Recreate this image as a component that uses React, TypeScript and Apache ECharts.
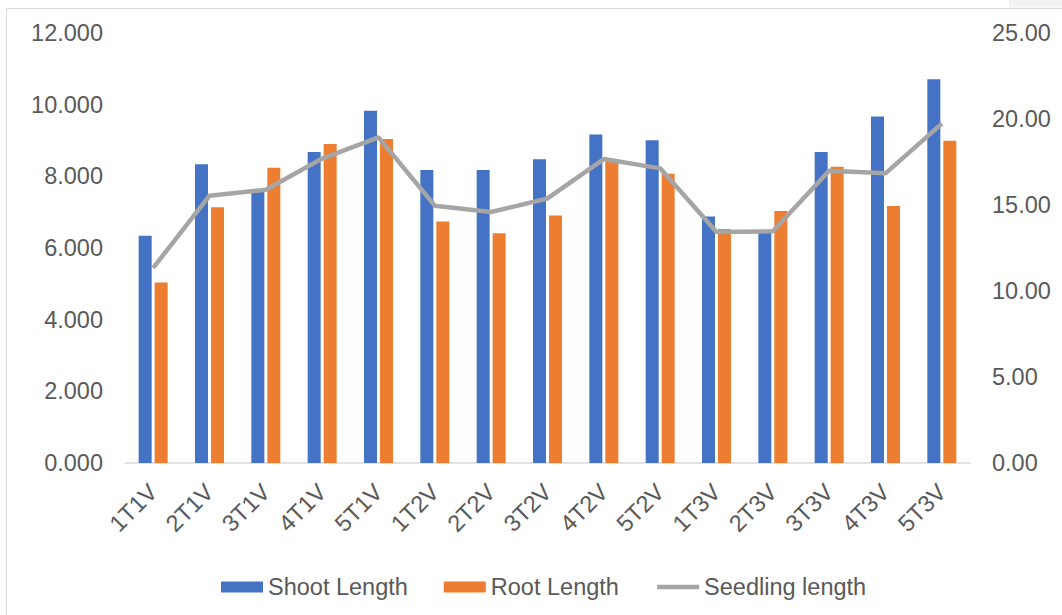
import React, { useEffect, useRef } from "react";
import * as echarts from "echarts";

const categories = ["1T1V", "2T1V", "3T1V", "4T1V", "5T1V", "1T2V", "2T2V", "3T2V", "4T2V", "5T2V", "1T3V", "2T3V", "3T3V", "4T3V", "5T3V"];
const shootLength = [6.34, 8.34, 7.56, 8.68, 9.83, 8.18, 8.18, 8.48, 9.17, 9.01, 6.88, 6.45, 8.68, 9.67, 10.71];
const rootLength = [5.04, 7.14, 8.24, 8.9, 9.04, 6.74, 6.41, 6.91, 8.42, 8.07, 6.53, 7.03, 8.27, 7.17, 8.99];
const seedlingLength = [11.34, 15.54, 15.89, 17.7, 18.93, 14.96, 14.59, 15.38, 17.67, 17.13, 13.43, 13.47, 16.99, 16.84, 19.73];

const FONT = "'Liberation Sans', Arial, sans-serif";
const TEXT = "#595959";
const FS = 23.5;

export default function App() {
  const ref = useRef<HTMLDivElement>(null);
  useEffect(() => {
    if (!ref.current) return;
    const chart = echarts.init(ref.current, undefined, { renderer: "svg" });
    chart.setOption({
      animation: false,
      backgroundColor: "#ffffff",
      textStyle: { fontFamily: FONT },
      grid: { left: 125, right: 92, top: 33, bottom: 152, containLabel: false },
      graphic: [
        { type: "rect", shape: { x: 1009, y: 0, width: 53, height: 7.5 }, style: { fill: "#F2F2F2" } },
        { type: "line", shape: { x1: 6.5, y1: 8.5, x2: 1062, y2: 8.5 }, style: { stroke: "#D9D9D9", lineWidth: 1 } },
        { type: "line", shape: { x1: 6.5, y1: 8.5, x2: 6.5, y2: 615 }, style: { stroke: "#D9D9D9", lineWidth: 1 } },
      ],
      legend: {
        left: 216,
        top: 570,
        itemWidth: 42,
        itemHeight: 11,
        itemGap: 36,
        textStyle: { fontSize: FS, color: TEXT, fontFamily: FONT },
        data: [
          { name: "Shoot Length", icon: "rect" },
          { name: "Root Length", icon: "rect" },
          {
            name: "Seedling length",
            itemStyle: { opacity: 0 },
            lineStyle: { width: 4.5, color: "#A5A5A5", opacity: 1 },
          },
        ],
      },
      xAxis: {
        type: "category",
        data: categories,
        axisLine: { show: true, lineStyle: { color: "#D9D9D9", width: 1.5 } },
        axisTick: { show: false },
        axisLabel: { rotate: 45, fontSize: FS, color: TEXT, margin: 25, fontFamily: FONT, interval: 0 },
        splitLine: { show: false },
      },
      yAxis: [
        {
          type: "value",
          min: 0,
          max: 12,
          interval: 2,
          axisLine: { show: false },
          axisTick: { show: false },
          splitLine: { show: false },
          axisLabel: { fontSize: FS, color: TEXT, margin: 22, fontFamily: FONT, formatter: (v: number) => v.toFixed(3) },
        },
        {
          type: "value",
          min: 0,
          max: 25,
          interval: 5,
          axisLine: { show: false },
          axisTick: { show: false },
          splitLine: { show: false },
          axisLabel: { fontSize: FS, color: TEXT, margin: 22, fontFamily: FONT, formatter: (v: number) => v.toFixed(2) },
        },
      ],
      series: [
        {
          name: "Shoot Length",
          type: "bar",
          data: shootLength,
          barWidth: 13,
          barGap: "23%",
          itemStyle: { color: "#4472C4" },
        },
        {
          name: "Root Length",
          type: "bar",
          data: rootLength,
          barWidth: 13,
          barGap: "23%",
          itemStyle: { color: "#ED7D31" },
        },
        {
          name: "Seedling length",
          type: "line",
          yAxisIndex: 1,
          data: seedlingLength,
          symbol: "none",
          lineStyle: { color: "#A5A5A5", width: 4.5 },
          itemStyle: { color: "#A5A5A5" },
        },
      ],
    });
    return () => chart.dispose();
  }, []);
  return <div ref={ref} style={{ position: "fixed", left: 0, top: 0, width: 1062, height: 615, background: "#fff" }} />;
}
